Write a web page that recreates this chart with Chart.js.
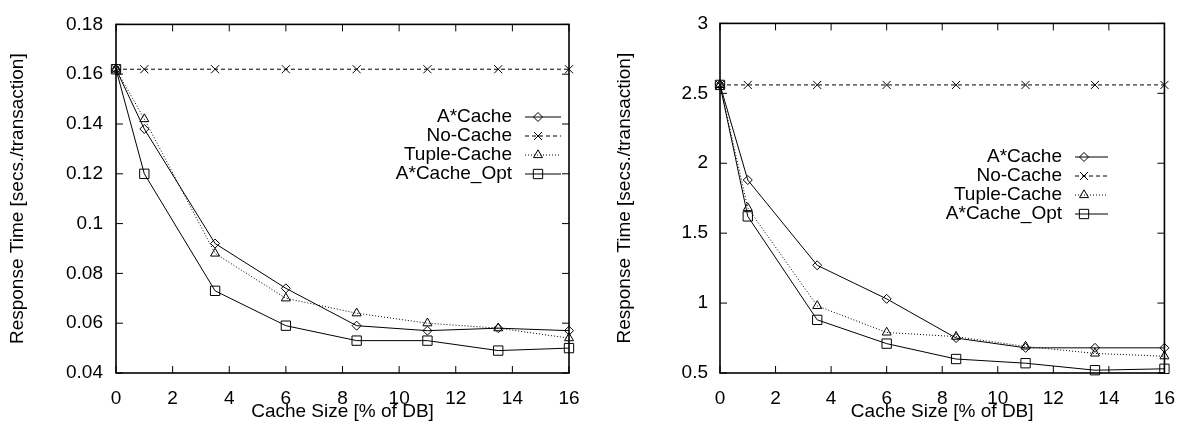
<!DOCTYPE html>
<html>
<head>
<meta charset="utf-8">
<script src="https://cdn.jsdelivr.net/npm/chart.js@4.4.0/dist/chart.umd.min.js"></script>
<style>
  html, body { margin: 0; padding: 0; background: #fff; }
  #wrap { position: relative; width: 1189px; height: 426px; }
  canvas { position: absolute; top: 0; }
  #left { left: 0; }
  #right { left: 594px; }
</style>
</head>
<body>
<div id="wrap">
  <canvas id="left" width="594" height="426"></canvas>
  <canvas id="right" width="595" height="426"></canvas>
</div>
<script>
// Tamaño de cache (% de la BD) - eje X comun a los dos graficos
const cacheSize = [0, 1, 3.5, 6, 8.5, 11, 13.5, 16];
const seriesNames = ['A*Cache', 'No-Cache', 'Tuple-Cache', 'A*Cache_Opt'];

// Grafico izquierdo
const leftAStar   = [0.162, 0.138, 0.092, 0.074, 0.059, 0.057, 0.058, 0.057];
const leftNoCache = [0.162, 0.162, 0.162, 0.162, 0.162, 0.162, 0.162, 0.162];
const leftTuple   = [0.162, 0.142, 0.088, 0.070, 0.064, 0.060, 0.058, 0.054];
const leftOpt     = [0.162, 0.120, 0.073, 0.059, 0.053, 0.053, 0.049, 0.050];

// Grafico derecho
const rightAStar   = [2.56, 1.88, 1.27, 1.03, 0.75, 0.68, 0.68, 0.68];
const rightNoCache = [2.56, 2.56, 2.56, 2.56, 2.56, 2.56, 2.56, 2.56];
const rightTuple   = [2.56, 1.68, 0.98, 0.79, 0.76, 0.69, 0.64, 0.62];
const rightOpt     = [2.56, 1.62, 0.88, 0.71, 0.60, 0.57, 0.52, 0.53];

// Ticks
const xTicks = [0, 2, 4, 6, 8, 10, 12, 14, 16];
const leftYTicks = [0.04, 0.06, 0.08, 0.1, 0.12, 0.14, 0.16, 0.18];
const rightYTicks = [0.5, 1, 1.5, 2, 2.5, 3];

// Estilo tipo gnuplot para cada serie
const estilos = [
  { pointStyle: 'rectRot',  radius: 4.5, dash: [] },
  { pointStyle: 'crossRot', radius: 5.7, dash: [4, 3] },
  { pointStyle: 'triangle', radius: 5.2, dash: [1, 2] },
  { pointStyle: 'rect',     radius: 6.6, dash: [] }
];

Chart.defaults.font.family = '"Liberation Sans", Arial, sans-serif';
Chart.defaults.font.size = 19;
Chart.defaults.color = '#000';

// Marco con ticks hacia adentro en los 4 lados
const marcoPlugin = {
  id: 'marco',
  beforeDatasetsDraw(chart) {
    const { ctx, chartArea: a, scales } = chart;
    const len = 7;
    ctx.save();
    ctx.strokeStyle = '#000';
    ctx.lineWidth = 1;
    ctx.beginPath();
    scales.x.ticks.forEach(t => {
      const px = scales.x.getPixelForValue(t.value);
      ctx.moveTo(px, a.bottom); ctx.lineTo(px, a.bottom - len);
      ctx.moveTo(px, a.top); ctx.lineTo(px, a.top + len);
    });
    scales.y.ticks.forEach(t => {
      const py = scales.y.getPixelForValue(t.value);
      ctx.moveTo(a.left, py); ctx.lineTo(a.left + len, py);
      ctx.moveTo(a.right, py); ctx.lineTo(a.right - len, py);
    });
    ctx.stroke();
    ctx.lineWidth = 1.6;
    ctx.strokeRect(a.left, a.top, a.right - a.left, a.bottom - a.top);
    ctx.restore();
  }
};

// Leyenda estilo gnuplot: texto alineado a la derecha y muestra de linea
const leyendaPlugin = {
  id: 'leyendaGnu',
  afterDatasetsDraw(chart, args, opts) {
    const { ctx } = chart;
    ctx.save();
    ctx.font = '19px "Liberation Sans", Arial, sans-serif';
    ctx.textAlign = 'right';
    ctx.textBaseline = 'middle';
    chart.data.datasets.forEach((ds, i) => {
      const y = opts.top + i * opts.gap;
      ctx.fillStyle = '#000';
      ctx.fillText(ds.label, opts.textRight, y);
      ctx.strokeStyle = '#000';
      ctx.lineWidth = 1;
      ctx.setLineDash(ds.borderDash || []);
      ctx.beginPath();
      ctx.moveTo(opts.lineStart, y);
      ctx.lineTo(opts.lineEnd, y);
      ctx.stroke();
      ctx.setLineDash([]);
      ctx.fillStyle = 'rgba(0,0,0,0)';
      Chart.helpers.drawPoint(ctx, {
        pointStyle: ds.pointStyle, radius: ds.pointRadius, rotation: 0, borderWidth: 1
      }, opts.marker, y);
    });
    ctx.restore();
  }
};

function armarDatasets(series) {
  return series.map((vals, i) => ({
    label: seriesNames[i],
    data: cacheSize.map((x, j) => ({ x: x, y: vals[j] })),
    borderColor: '#000',
    borderWidth: 1,
    borderDash: estilos[i].dash,
    pointStyle: estilos[i].pointStyle,
    pointRadius: estilos[i].radius,
    pointBorderColor: '#000',
    pointBackgroundColor: 'rgba(0,0,0,0)',
    pointBorderWidth: 1,
    tension: 0,
    clip: false
  }));
}

function crearGrafico(id, series, yTicks, cfg) {
  return new Chart(document.getElementById(id), {
    type: 'line',
    data: { datasets: armarDatasets(series) },
    options: {
      responsive: false,
      animation: false,
      layout: { padding: { top: 13, right: cfg.padRight, left: 0, bottom: 0 } },
      plugins: {
        legend: { display: false },
        tooltip: { enabled: false },
        leyendaGnu: cfg.leyenda
      },
      scales: {
        x: {
          type: 'linear',
          min: 0, max: 16,
          afterBuildTicks: s => { s.ticks = xTicks.map(v => ({ value: v })); },
          afterFit: s => { s.height = 53; },
          ticks: { padding: 14, maxRotation: 0, autoSkip: false, callback: v => String(v) },
          grid: { display: false, drawTicks: false },
          border: { display: false },
          title: { display: true, text: 'Cache Size [% of DB]', padding: { top: 0, bottom: 3 } }
        },
        y: {
          type: 'linear',
          min: yTicks[0], max: yTicks[yTicks.length - 1],
          afterBuildTicks: s => { s.ticks = yTicks.map(v => ({ value: v })); },
          afterFit: s => { s.width = cfg.yWidth; },
          ticks: { padding: cfg.yPad, autoSkip: false, callback: v => String(+v.toFixed(2)) },
          grid: { display: false, drawTicks: false },
          border: { display: false },
          title: { display: true, text: 'Response Time [secs./transaction]', padding: { top: cfg.titlePad, bottom: 0 } }
        }
      }
    },
    plugins: [marcoPlugin, leyendaPlugin]
  });
}

crearGrafico('left', [leftAStar, leftNoCache, leftTuple, leftOpt], leftYTicks, {
  padRight: 25, yWidth: 116, yPad: 13, titlePad: 6,
  leyenda: { textRight: 512, top: 117, gap: 19, lineStart: 525, lineEnd: 561, marker: 538 }
});

crearGrafico('right', [rightAStar, rightNoCache, rightTuple, rightOpt], rightYTicks, {
  padRight: 22, yWidth: 126, yPad: 12, titlePad: 19,
  leyenda: { textRight: 468, top: 157, gap: 19, lineStart: 481, lineEnd: 514, marker: 490 }
});
</script>
</body>
</html>
